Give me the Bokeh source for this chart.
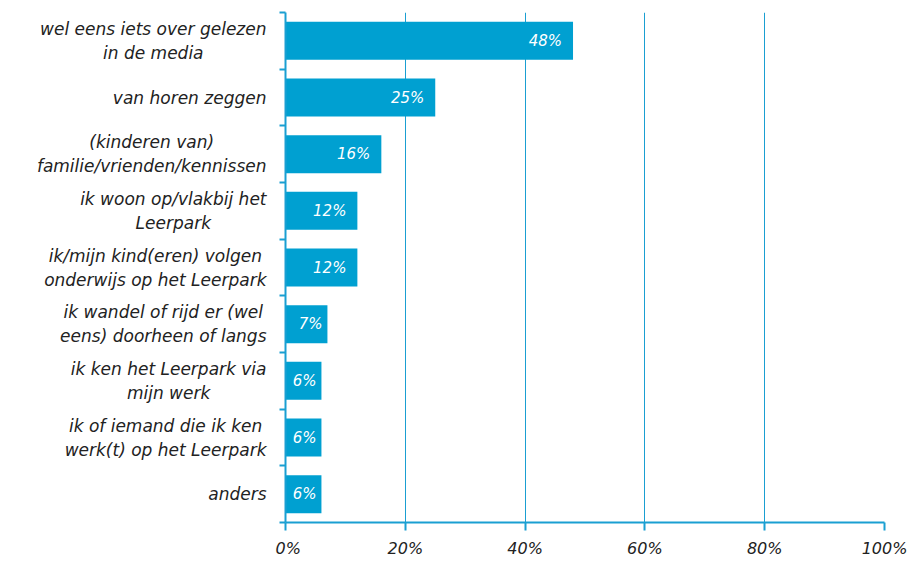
from bokeh.plotting import figure
from bokeh.layouts import row
from bokeh.models import (Range1d, LinearAxis, FixedTicker,
                          ColumnDataSource, Grid)
from bokeh.embed import file_html
from bokeh.resources import INLINE
from bokeh.core.properties import value

categories = [
    "wel eens iets over gelezen\nin de media",
    "van horen zeggen",
    "(kinderen van)\nfamilie/vrienden/kennissen",
    "ik woon op/vlakbij het\nLeerpark",
    "ik/mijn kind(eren) volgen\nonderwijs op het Leerpark",
    "ik wandel of rijd er (wel\neens) doorheen of langs",
    "ik ken het Leerpark via\nmijn werk",
    "ik of iemand die ik ken\nwerk(t) op het Leerpark",
    "anders",
]
values = [48, 25, 16, 12, 12, 7, 6, 6, 6]
x_ticks = [0, 20, 40, 60, 80, 100]
x_tick_labels = ["0%", "20%", "40%", "60%", "80%", "100%"]

BLUE = "#00a0d1"
AXIS = "#1a9fd2"
TEXT = "#222222"
FONT = "DejaVu Sans"

n = len(categories)
pos = [n - k - 0.5 for k in range(n)]
bounds = list(range(n + 1))

src = ColumnDataSource(dict(
    y=pos,
    val=values,
    lbl=[f"{v}%" for v in values],
    off=[-11 if v >= 10 else -5 for v in values],
    edge=[1] * n,
    cat=categories,
))

y_range = Range1d(0, n)

# ---- label panel (category names, block right-aligned, lines centred)
lp = figure(
    width=275, height=560,
    x_range=Range1d(0, 1), y_range=y_range,
    x_axis_type=None, y_axis_type=None,
    output_backend="svg", toolbar_location=None,
    min_border_left=0, min_border_right=0,
    min_border_top=12, min_border_bottom=35,
)
lp.outline_line_color = None
lp.xgrid.visible = False
lp.ygrid.visible = False
lp.text(x="edge", y="y", text="cat", source=src,
        anchor="center_right", text_align="center", x_offset=-9,
        text_color=TEXT, text_font=value(FONT), text_font_style="italic",
        text_font_size="17px", text_line_height=1.2)

# ---- bar panel
p = figure(
    width=633, height=560,
    x_range=Range1d(0, 100), y_range=y_range,
    y_axis_type=None, x_axis_type=None,
    output_backend="svg", toolbar_location=None,
    min_border_left=10, min_border_right=24,
    min_border_top=12, min_border_bottom=35,
)
p.outline_line_color = None
p.background_fill_color = "white"

p.hbar(y="y", right="val", left=0, height=0.67, source=src,
       fill_color=BLUE, line_color=None)

p.text(x="val", y="y", text="lbl", source=src,
       text_align="right", text_baseline="middle", x_offset="off",
       text_color="white", text_font=value(FONT), text_font_style="italic",
       text_font_size="15px")

xax = LinearAxis(ticker=FixedTicker(ticks=x_ticks))
xax.major_label_overrides = {t: l for t, l in zip(x_ticks, x_tick_labels)}
xax.axis_line_color = AXIS
xax.axis_line_width = 2
xax.major_tick_line_color = AXIS
xax.major_tick_line_width = 2
xax.major_tick_in = 0
xax.major_tick_out = 8
xax.minor_tick_line_color = None
xax.major_label_standoff = 8
xax.major_label_text_font = FONT
xax.major_label_text_font_style = "italic"
xax.major_label_text_font_size = "16px"
xax.major_label_text_color = TEXT
p.add_layout(xax, "below")

yax = LinearAxis(ticker=FixedTicker(ticks=[], minor_ticks=bounds))
yax.axis_line_color = AXIS
yax.axis_line_width = 2
yax.major_tick_line_color = None
yax.major_tick_in = 0
yax.major_tick_out = 0
yax.major_label_standoff = 0
yax.major_label_text_font_size = "0px"
yax.minor_tick_line_color = AXIS
yax.minor_tick_line_width = 2
yax.minor_tick_in = 0
yax.minor_tick_out = 6
p.add_layout(yax, "left")

g = Grid(dimension=0, ticker=FixedTicker(ticks=x_ticks[1:]),
         grid_line_color=AXIS, grid_line_width=1)
p.add_layout(g)

layout = row(lp, p)
open("out.html", "w").write(file_html(layout, INLINE))
